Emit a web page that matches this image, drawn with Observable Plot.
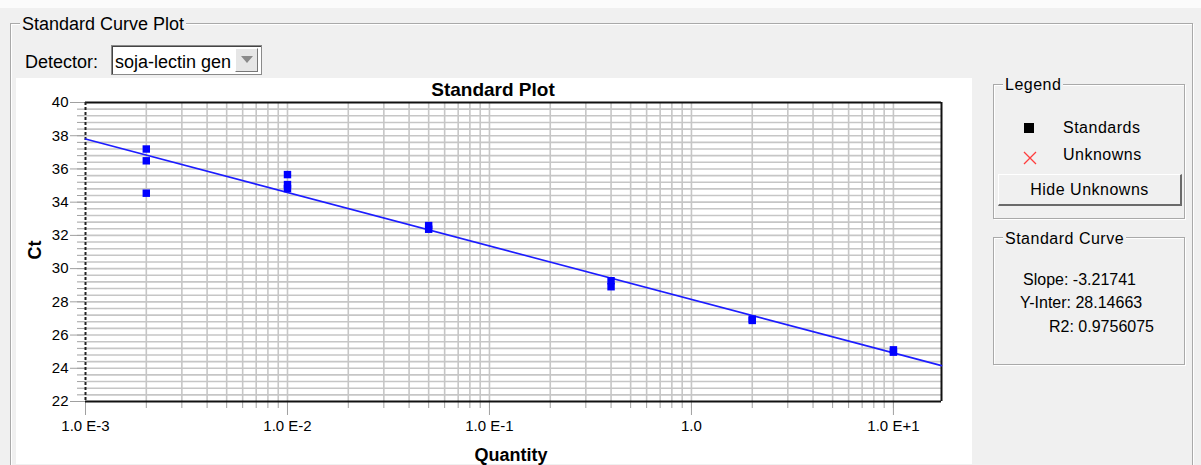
<!DOCTYPE html>
<html><head><meta charset="utf-8">
<script src="https://cdn.jsdelivr.net/npm/d3@7"></script>
<script src="https://cdn.jsdelivr.net/npm/@observablehq/plot@0.6"></script>
<style>
html,body{margin:0;padding:0;}
body{width:1201px;height:465px;background:#f0f0f0;position:relative;overflow:hidden;font-family:"Liberation Sans",Arial,sans-serif;color:#000;}
.abs{position:absolute;white-space:nowrap;}
.grp{position:absolute;border:1px solid #a9a9a9;box-shadow:1px 1px 0 #fff inset, 1px 1px 0 #fff;}
.gt{position:absolute;background:#f0f0f0;padding:0 2px;white-space:nowrap;}
.ui{font-size:16px;letter-spacing:0.5px;}
</style></head><body>
<div class="abs" style="left:0;top:0;width:1201px;height:8px;background:#fbfbfb"></div>
<div class="grp" style="left:10px;top:23px;width:1181px;height:460px;"></div>
<div class="gt" style="left:20px;top:13px;font-size:18px;line-height:22px;">Standard Curve Plot</div>
<div class="abs" style="left:25px;top:51px;font-size:18px;line-height:22px;">Detector:</div>
<div class="abs" style="left:111px;top:45px;width:149px;height:28px;background:#fff;border:1px solid #8a8a8a;box-shadow:1px 1px 0 #444 inset;"></div>
<div class="abs" style="left:115px;top:51px;font-size:18px;line-height:22px;">soja-lectin gen</div>
<div class="abs" style="left:235px;top:48px;width:23px;height:24px;background:#e6e6e6;border-left:1px solid #fff;border-top:1px solid #fff;border-right:1px solid #777;border-bottom:1px solid #777;box-sizing:border-box;"></div>
<div class="abs" style="left:241px;top:56px;width:0;height:0;border-left:6px solid transparent;border-right:6px solid transparent;border-top:7px solid #8a8a8a;"></div>
<div class="abs" style="left:16px;top:78px;width:956px;height:386px;background:#fff;"></div>
<div id="chart" class="abs" style="left:18px;top:78px;"></div>
<div class="abs" style="left:393px;top:79px;width:200px;text-align:center;font-size:19px;font-weight:bold;line-height:22px;">Standard Plot</div>
<div class="abs" style="left:411px;top:444px;width:200px;text-align:center;font-size:18px;font-weight:bold;line-height:22px;">Quantity</div>
<div class="abs" style="left:24px;top:239px;width:22px;height:22px;font-size:18px;font-weight:bold;line-height:22px;text-align:center;transform:rotate(-90deg);">Ct</div>

<div class="grp" style="left:993px;top:84px;width:190px;height:133px;"></div>
<div class="gt ui" style="left:1003px;top:75px;line-height:20px;">Legend</div>
<div class="abs" style="left:1024px;top:123px;width:10px;height:10px;background:#000;"></div>
<div class="abs ui" style="left:1063px;top:118px;line-height:20px;">Standards</div>
<svg class="abs" style="left:1023px;top:151px;" width="14" height="14"><path d="M1,1L13,13M13,1L1,13" stroke="#ff3c3c" stroke-width="1.3" fill="none"/></svg>
<div class="abs ui" style="left:1063px;top:145px;line-height:20px;">Unknowns</div>
<div class="abs ui" style="left:998px;top:174px;width:184px;height:32px;box-sizing:border-box;border-top:1px solid #fff;border-left:1px solid #fff;border-right:2px solid #6a6a6a;border-bottom:2px solid #6a6a6a;background:#f0f0f0;text-align:center;line-height:29px;">Hide Unknowns</div>

<div class="grp" style="left:993px;top:237px;width:190px;height:126px;"></div>
<div class="gt ui" style="left:1003px;top:229px;line-height:20px;">Standard Curve</div>
<div class="abs" style="left:1023px;top:270px;font-size:16px;line-height:20px;">Slope: -3.21741</div>
<div class="abs" style="left:1020px;top:293px;font-size:16px;line-height:20px;">Y-Inter: 28.14663</div>
<div class="abs" style="left:1049px;top:317px;font-size:16px;line-height:20px;">R2: 0.9756075</div>

<script>
// Standards (replicate Ct values)
const quantities = [0.002, 0.002, 0.002, 0.01, 0.01, 0.01, 0.05, 0.05, 0.4, 0.4, 2, 2, 10, 10];
const ctValues   = [37.20, 36.49, 34.54, 35.66, 35.06, 34.82, 32.59, 32.37, 29.27, 28.91, 26.96, 26.88, 25.11, 24.97];
// Standard curve end points
const fitQuantity = [0.001, 17.3];
const fitCt       = [37.80, 24.16];
// Axes
const xDomain = [0.001, 17.3];
const yDomain = [22, 40];
const xMajorTicks = [0.001, 0.01, 0.1, 1, 10];
const xTickLabels = ["1.0 E-3", "1.0 E-2", "1.0 E-1", "1.0", "1.0 E+1"];
const yMajorTicks = [22, 24, 26, 28, 30, 32, 34, 36, 38, 40];

const xMinor = [];
for (const dec of [0.001, 0.01, 0.1, 1, 10]) for (let k = 1; k <= 9; k++) { const v = +(dec * k).toPrecision(6); if (v <= xDomain[1]) xMinor.push(v); }
const yMinor = d3.range(0, 46).map(i => +(22 + i * 0.4).toFixed(1));
const labelOf = new Map(xMajorTicks.map((t, i) => [t, xTickLabels[i]]));

const standards = quantities.map((q, i) => ({q, ct: ctValues[i]}));
const fit = fitQuantity.map((q, i) => ({q, ct: fitCt[i]}));

const chart = Plot.plot({
  width: 954, height: 387,
  marginLeft: 67, marginRight: 31, marginTop: 24, marginBottom: 64,
  style: {background: "transparent", fontFamily: "'Liberation Sans', Arial, sans-serif", fontSize: "15px", color: "#000", overflow: "visible"},
  x: {type: "log", domain: xDomain, axis: null},
  y: {domain: yDomain, axis: null},
  marks: [
    Plot.ruleX(xMinor.filter(v => v > xDomain[0]), {stroke: "#c6c6c6", strokeWidth: 1.6}),
    Plot.ruleY(yMinor.filter(v => v > 22 && v < 40), {stroke: "#c6c6c6", strokeWidth: 1.6}),
    Plot.axisX(xMinor, {tickSize: 7, tickFormat: () => "", stroke: "#a0a0a0", label: null}),
    Plot.axisX(xMajorTicks, {tickSize: 14, tickPadding: 5, tickFormat: d => labelOf.get(d), stroke: "#a0a0a0", fill: "#000", label: null}),
    Plot.axisY(yMinor, {tickSize: 8, tickFormat: () => "", stroke: "#a0a0a0", label: null}),
    Plot.axisY(yMajorTicks, {tickSize: 15, tickPadding: 2, stroke: "#a0a0a0", fill: "#000", label: null}),
    Plot.ruleY([yDomain[0]], {stroke: "#111", strokeWidth: 2}),
    Plot.ruleY([yDomain[1]], {stroke: "#111", strokeWidth: 2}),
    Plot.ruleX([xDomain[1]], {stroke: "#111", strokeWidth: 2}),
    Plot.ruleX([xDomain[0]], {stroke: "#222", strokeWidth: 2, strokeDasharray: "3,2"}),
    Plot.line(fit, {x: "q", y: "ct", stroke: "#1c1cff", strokeWidth: 1.6}),
    Plot.dot(standards, {x: "q", y: "ct", symbol: "square", r: 4.2, fill: "#0000ff", stroke: "none"})
  ]
});
document.getElementById("chart").appendChild(chart);
</script>
</body></html>
